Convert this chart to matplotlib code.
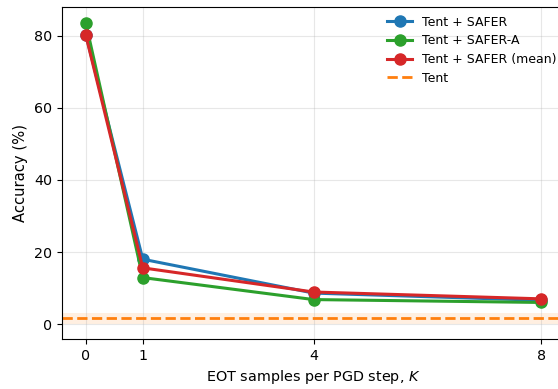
import numpy as np
import matplotlib.pyplot as plt

# EOT samples per PGD step
k = [0, 1, 4, 8]

# accuracy (%)
safer = [80.3, 18.0, 8.6, 6.6]
safer_a = [83.5, 12.9, 6.8, 6.0]
safer_mean = [80.1, 15.6, 8.9, 7.0]
tent_acc = 1.6
tent_band = (0.0, 3.2)

fig = plt.figure(figsize=(5.58, 3.89), dpi=100)
ax = fig.add_axes([0.111, 0.128, 0.902, 0.854])

ax.plot(k, safer, '-o', color='C0', lw=2.2, ms=8, label='Tent + SAFER')
ax.plot(k, safer_a, '-o', color='C2', lw=2.2, ms=8, label='Tent + SAFER-A')
ax.plot(k, safer_mean, '-o', color='C3', lw=2.2, ms=8, label='Tent + SAFER (mean)')
ax.axhline(tent_acc, color='C1', ls='--', lw=2, label='Tent')
ax.axhspan(tent_band[0], tent_band[1], color='C1', alpha=0.12, lw=0)

ax.set_xlim(-0.42, 8.42)
ax.set_ylim(-4.2, 88.0)
ax.set_xticks(k)
ax.set_yticks([0, 20, 40, 60, 80])
ax.tick_params(labelsize=10.3)
ax.grid(alpha=0.3)

ax.set_xlabel('EOT samples per PGD step, $K$', fontsize=10.4)
ax.set_ylabel('Accuracy (%)', fontsize=10.6)
ax.legend(loc='upper right', frameon=False, fontsize=9, labelspacing=0.45,
          borderaxespad=0.3)

fig.savefig('out.png', dpi=100)
